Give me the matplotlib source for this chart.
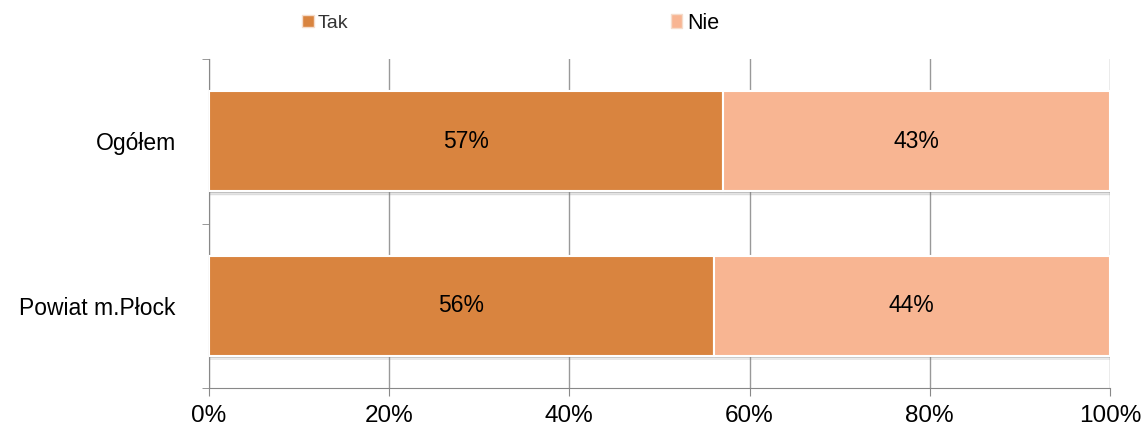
import matplotlib.pyplot as plt
from matplotlib.patches import Patch
from matplotlib.ticker import MultipleLocator, FuncFormatter

plt.rcParams['font.family'] = ['Liberation Sans', 'DejaVu Sans']

kategorie = ['Ogółem', 'Powiat m.Płock']
tak = [57, 56]
nie = [43, 44]
serie = ['Tak', 'Nie']
kolory = ['#D9843F', '#F8B592']

fig = plt.figure(figsize=(11.45, 4.28), dpi=100)
ax = fig.add_axes([0.1825, 0.0935, 0.7869, 0.7686])

y = list(range(len(kategorie)))
wys = 0.61

# lekki cien pod slupkami
for yi, a, b in zip(y, tak, nie):
    for k in range(6):
        ax.barh(yi + wys / 2 + 0.004 + k * 0.004, a + b, height=0.006, left=0,
                color='#707070', alpha=0.28 - k * 0.045, linewidth=0, zorder=2)

ax.barh(y, tak, height=wys, color=kolory[0], edgecolor='white', linewidth=1.5, zorder=3)
ax.barh(y, nie, height=wys, left=tak, color=kolory[1], edgecolor='white', linewidth=1.5, zorder=3)

for yi, a, b in zip(y, tak, nie):
    ax.text(a / 2, yi, f'{a}%', ha='center', va='center', fontsize=16.5, color='black', zorder=4)
    ax.text(a + b / 2, yi, f'{b}%', ha='center', va='center', fontsize=16.5, color='black', zorder=4)

ax.set_xlim(0, 100)
ax.set_ylim(len(kategorie) - 0.5, -0.5)
ax.xaxis.set_major_locator(MultipleLocator(20))
ax.xaxis.set_major_formatter(FuncFormatter(lambda v, p: f'{v:.0f}%'))
ax.set_yticks(y)
ax.set_yticklabels(kategorie, fontsize=16.5)
ax.set_yticks([i - 0.5 for i in range(len(kategorie) + 1)], minor=True)
ax.tick_params(axis='y', which='major', length=0, pad=24)
ax.tick_params(axis='y', which='minor', length=5, color='#888888', direction='out')
ax.tick_params(axis='x', length=6, color='#888888', direction='out', labelsize=17.5, pad=6)

ax.grid(axis='x', color='#999999', linewidth=1, zorder=0)
ax.set_axisbelow(True)
for s in ['top', 'right']:
    ax.spines[s].set_visible(False)
for s in ['left', 'bottom']:
    ax.spines[s].set_color('#888888')

# legenda: dwa osobne wpisy u gory
for nazwa, kolor, x0, rozm, kol_txt in zip(serie, kolory, [0.2637, 0.5856], [14, 15.5], ['#333333', 'black']):
    bok = 8.6 / rozm  # kwadrat ok. 12 px
    fig.legend([Patch(facecolor=kolor, edgecolor='#F5DCCB', linewidth=1)], [nazwa],
               loc='center left', bbox_to_anchor=(x0, 0.946), frameon=False,
               fontsize=rozm, labelcolor=kol_txt, handlelength=bok,
               handleheight=bok, handletextpad=0.2, borderpad=0,
               borderaxespad=0)

fig.savefig('out.png', dpi=100)
